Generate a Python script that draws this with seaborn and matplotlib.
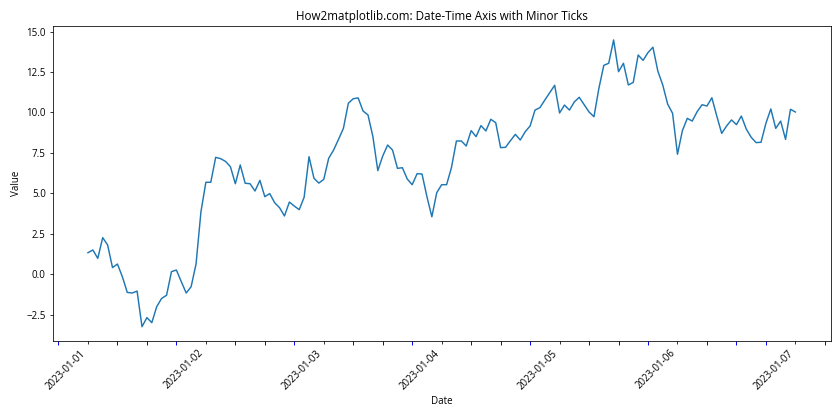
import matplotlib
matplotlib.use("Agg")
import matplotlib.pyplot as plt
import matplotlib.dates as mdates
import seaborn as sns
import pandas as pd
import numpy as np

plt.rcParams['font.family'] = ['Open Sans', 'DejaVu Sans']

start_date = "2023-01-01"
end_date = "2023-01-07"
values = [
    1.34, 1.51, 0.99, 2.27, 1.82, 0.42, 0.64, -0.14, -1.11, -1.15,
    -1.03, -3.23, -2.67, -2.98, -1.99, -1.48, -1.29, 0.17, 0.27, -0.45,
    -1.15, -0.76, 0.64, 3.87, 5.69, 5.69, 7.23, 7.15, 6.98, 6.65,
    5.60, 6.76, 5.63, 5.60, 5.15, 5.81, 4.80, 4.99, 4.43, 4.12,
    3.61, 4.47, 4.22, 4.00, 4.76, 7.27, 5.94, 5.64, 5.87, 7.17,
    7.68, 8.34, 9.02, 10.57, 10.85, 10.90, 10.09, 9.85, 8.51, 6.41,
    7.31, 7.99, 7.68, 6.55, 6.59, 5.89, 5.54, 6.22, 6.20, 4.80,
    3.56, 5.05, 5.54, 5.54, 6.61, 8.24, 8.24, 7.93, 8.88, 8.51,
    9.19, 8.86, 9.58, 9.37, 7.83, 7.85, 8.26, 8.65, 8.30, 8.81,
    9.17, 10.15, 10.30, 10.77, 11.22, 11.68, 9.97, 10.46, 10.15, 10.65,
    10.94, 10.48, 10.03, 9.74, 11.49, 12.91, 13.04, 14.48, 12.52, 13.04,
    11.70, 11.86, 13.55, 13.22, 13.70, 14.03, 12.56, 11.70, 10.52, 9.95,
    7.42, 8.88, 9.64, 9.47, 10.05, 10.48, 10.40, 10.91, 9.78, 8.71,
    9.17, 9.54, 9.25, 9.78, 8.98, 8.47, 8.14, 8.16, 9.33, 10.22,
    9.02, 9.47, 8.34, 10.20, 10.03,
]

title = "How2matplotlib.com: Date-Time Axis with Minor Ticks"
x_label = "Date"
y_label = "Value"

dates = pd.date_range(start_date, end_date, freq="h")
df = pd.DataFrame({"Date": dates, "Value": values})

fig, ax = plt.subplots(figsize=(12, 6), dpi=70)
sns.lineplot(data=df, x="Date", y="Value", ax=ax, color="#1f77b4", linewidth=1.5)

ax.xaxis.set_major_locator(mdates.DayLocator())
ax.xaxis.set_major_formatter(mdates.DateFormatter("%Y-%m-%d"))
ax.xaxis.set_minor_locator(mdates.HourLocator(byhour=[0, 6, 12, 18]))
ax.tick_params(axis="x", which="minor", length=4, width=1, color="blue")
plt.setp(ax.get_xticklabels(), rotation=45, ha="right")

ax.set_title(title)
ax.set_xlabel(x_label)
ax.set_ylabel(y_label)

fig.subplots_adjust(left=0.0626, right=0.989, top=0.939, bottom=0.188)
fig.savefig("out.png", dpi=70)
